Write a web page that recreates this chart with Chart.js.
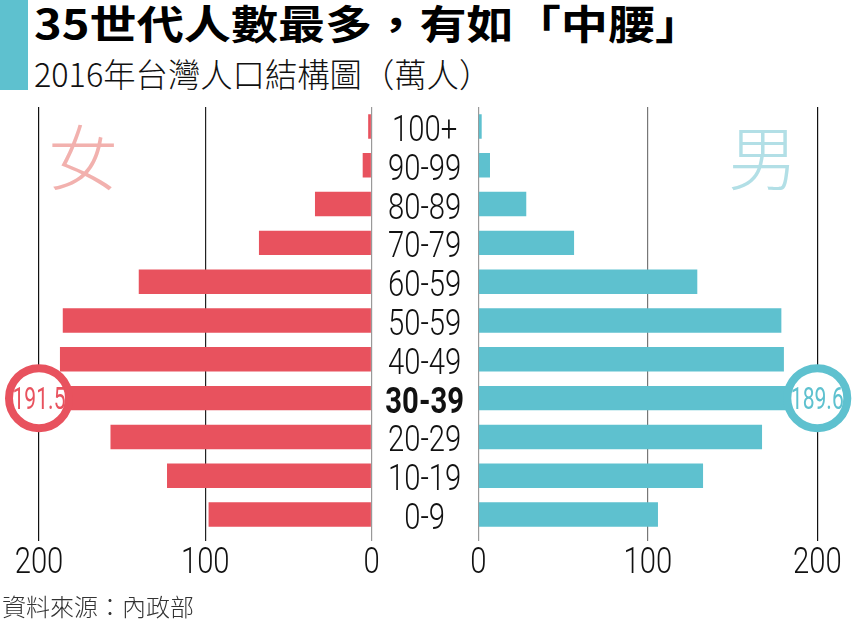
<!DOCTYPE html>
<html><head><meta charset="utf-8">
<script src="https://cdn.jsdelivr.net/npm/chart.js@4.4.0/dist/chart.umd.min.js"></script>
<style>
html,body{margin:0;padding:0;background:#fff;}
#wrap{position:relative;width:861px;height:622px;overflow:hidden;background:#fff;}
.abs{position:absolute;white-space:nowrap;}
#bar{left:0;top:0;width:28px;height:90px;background:#5ec1cf;}
#title{left:34px;top:2px;font:bold 40px/1 'Noto Sans CJK TC',sans-serif;color:#000;transform:scaleX(1.178);transform-origin:0 0;}
#sub{left:34px;top:57px;font:300 33px/1 'Noto Sans CJK TC',sans-serif;color:#111;transform:scaleX(0.98);transform-origin:0 0;}
#f{left:48px;top:120px;font:300 70px/1 'Noto Sans CJK TC',sans-serif;color:#f2b1ae;}
#m{left:728px;top:120px;font:300 70px/1 'Noto Sans CJK TC',sans-serif;color:#b2dfe6;}
#src{left:2px;top:594px;font:300 24px/1 'Noto Sans CJK TC',sans-serif;color:#333;}
canvas{position:absolute;top:0;}
#cl{left:0;}
#cr{left:371px;}
</style>
</head>
<body>
<div id="wrap">
  <div id="bar" class="abs"></div>
  <div id="title" class="abs">35世代人數最多，有如「中腰」</div>
  <div id="sub" class="abs">2016年台灣人口結構圖（萬人）</div>
  <canvas id="cl" width="400" height="622"></canvas>
  <canvas id="cr" width="490" height="622"></canvas>
  <div id="f" class="abs">女</div>
  <div id="m" class="abs">男</div>
  <div id="src" class="abs">資料來源：內政部</div>
</div>
<script>
// ---- data (萬人) ----
const ageGroups = ['100+','90-99','80-89','70-79','60-59','50-59','40-49','30-39','20-29','10-19','0-9'];
const female = [2, 5.3, 34, 67.7, 140, 185.7, 187.4, 191.5, 157, 123, 98];
const male   = [2, 6.9, 28.3, 56.5, 129.2, 178.8, 180.3, 189.6, 167.4, 132.6, 106];
const axisTicks = [0, 100, 200];
const highlightAge = '30-39';

const RED = '#e8525e', CYAN = '#5ec1cf';
const FAMILY = "Roboto,'Noto Sans',sans-serif";
const hi = ageGroups.indexOf(highlightAge);

// condensed text helper (the reference uses a condensed face)
function drawNarrow(ctx, text, x, y, size, weight, color, sx) {
  ctx.save();
  ctx.font = weight + ' ' + size + 'px ' + FAMILY;
  ctx.fillStyle = color;
  ctx.textAlign = 'center';
  ctx.textBaseline = 'alphabetic';
  ctx.translate(x, y);
  ctx.scale(sx, 1);
  ctx.fillText(text, 0, 0);
  ctx.restore();
}

const labelPlugin = {
  id: 'narrowLabels',
  afterDraw(chart, args, opts) {
    const {ctx, scales: {x, y}} = chart;
    x.ticks.forEach(t => {
      drawNarrow(ctx, String(t.value), x.getPixelForValue(t.value), x.top + 39, 37.5, 300, '#111', 0.78);
    });
    if (opts.categories) {
      const cx = y.left + y.width / 2;
      y.ticks.forEach((t, i) => {
        const lab = y.getLabelForValue(t.value);
        drawNarrow(ctx, lab, cx, y.getPixelForValue(t.value) + 14.5, 37.5,
          lab === highlightAge ? 700 : 300, '#111', 0.78);
      });
    }
  }
};

const ringPlugin = {
  id: 'ring',
  afterDatasetsDraw(chart, args, opts) {
    const {ctx, scales: {x, y}} = chart;
    const cx = x.getPixelForValue(axisTicks[axisTicks.length - 1]);
    const cy = y.getPixelForValue(hi);
    const val = chart.data.datasets[0].data[hi];
    ctx.save();
    ctx.beginPath();
    ctx.arc(cx, cy, 30, 0, Math.PI * 2);
    ctx.fillStyle = '#fff';
    ctx.fill();
    ctx.lineWidth = 8;
    ctx.strokeStyle = opts.color;
    ctx.stroke();
    ctx.restore();
    drawNarrow(ctx, val.toFixed(1), cx, cy + 11, 31, 400, opts.color, 0.68);
  }
};

function xAxis(reverse, gridColors) {
  return {
    type: 'linear', min: 0, max: 200, reverse,
    afterBuildTicks: s => { s.ticks = axisTicks.map(v => ({value: v})); },
    afterFit: s => { s.height = 50; },
    border: {display: false},
    grid: {
      drawTicks: true, tickLength: 7, lineWidth: 1.2,
      color: c => gridColors[axisTicks.indexOf(c.tick.value)] || '#222'
    },
    ticks: {display: false}
  };
}

Chart.defaults.animation = false;

new Chart(document.getElementById('cl'), {
  type: 'bar',
  data: {labels: ageGroups, datasets: [{data: female, backgroundColor: RED, barPercentage: 0.63, categoryPercentage: 1}]},
  options: {
    responsive: false, indexAxis: 'y',
    layout: {padding: {left: 39, right: 28.5, top: 107, bottom: 38}},
    plugins: {legend: {display: false}, tooltip: {enabled: false}, ring: {color: RED}, narrowLabels: {categories: false}},
    scales: {
      x: xAxis(true, ['#999', '#222', '#111']),
      y: {type: 'category', display: false}
    }
  },
  plugins: [ringPlugin, labelPlugin]
});

new Chart(document.getElementById('cr'), {
  type: 'bar',
  data: {labels: ageGroups, datasets: [{data: male, backgroundColor: CYAN, barPercentage: 0.63, categoryPercentage: 1}]},
  options: {
    responsive: false, indexAxis: 'y',
    layout: {padding: {left: 0, right: 43.7, top: 107, bottom: 38}},
    plugins: {legend: {display: false}, tooltip: {enabled: false}, ring: {color: CYAN}, narrowLabels: {categories: true}},
    scales: {
      x: xAxis(false, ['#999', '#777', '#111']),
      y: {
        type: 'category',
        afterFit: s => { s.width = 107.3; },
        border: {display: false},
        grid: {display: false, drawTicks: false},
        ticks: {display: false}
      }
    }
  },
  plugins: [ringPlugin, labelPlugin]
});
</script>
</body></html>
